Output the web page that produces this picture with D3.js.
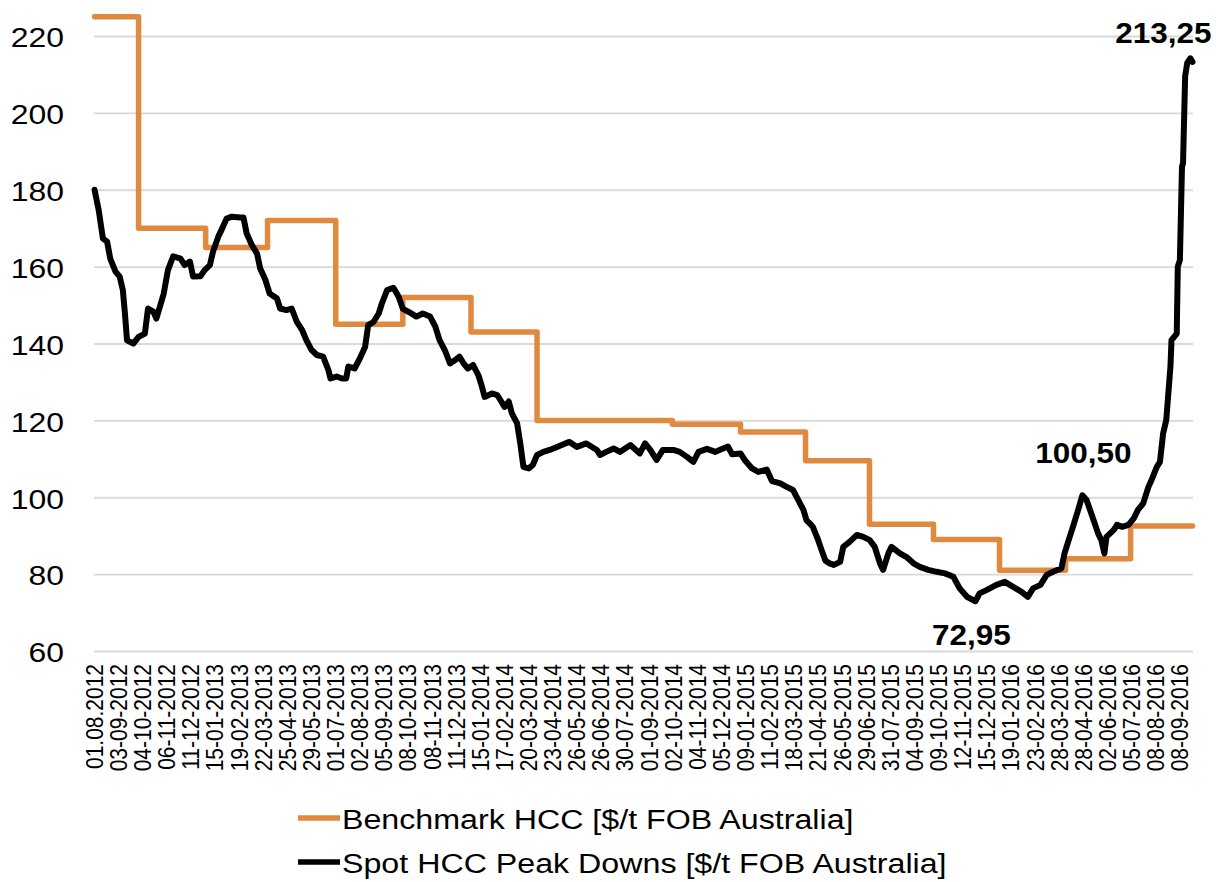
<!DOCTYPE html>
<html>
<head>
<meta charset="utf-8">
<script src="https://cdn.jsdelivr.net/npm/d3@7"></script>
<style>
  html, body { margin: 0; padding: 0; background: #ffffff; }
  svg { display: block; }
  text { font-family: "Liberation Sans", Arial, sans-serif; fill: #000; }
</style>
</head>
<body>
<script>
// ---------------- DATA ----------------
const categories = [
  "01.08.2012","03-09-2012","04-10-2012","06-11-2012","11-12-2012","15-01-2013","19-02-2013","22-03-2013",
  "25-04-2013","29-05-2013","01-07-2013","02-08-2013","05-09-2013","08-10-2013","08-11-2013","11-12-2013",
  "15-01-2014","17-02-2014","20-03-2014","23-04-2014","26-05-2014","26-06-2014","30-07-2014","01-09-2014",
  "02-10-2014","04-11-2014","05-12-2014","09-01-2015","11-02-2015","18-03-2015","21-04-2015","26-05-2015",
  "29-06-2015","31-07-2015","04-09-2015","09-10-2015","12-11-2015","15-12-2015","19-01-2016","23-02-2016",
  "28-03-2016","28-04-2016","02-06-2016","05-07-2016","08-08-2016","08-09-2016"
];
const labelEvery = 23;        // trading days between category labels
const lastDay = 1047;         // index of last trading day
const yTicks = [60, 80, 100, 120, 140, 160, 180, 200, 220];

// Benchmark HCC quarterly price (step): first trading-day index of each level
const benchStartDay = [0, 42, 106, 165, 230, 294, 359, 422, 551, 616, 678, 739, 800, 863, 926, 988];
const benchValue    = [225, 170, 165, 172, 145, 152, 143, 120, 119, 117, 109.5, 93, 89, 81, 84, 92.5];

// Spot HCC Peak Downs: trading-day index and price
const spotDay = [
  0,4,8,12,15,20,24,27,29,31,37,42,48,51,56,59,66,70,75,82,86,91,94,101,105,110,113,118,121,126,131,139,142,145,
  150,155,158,163,167,174,177,183,188,193,198,202,207,212,218,223,225,231,236,240,242,248,253,258,261,266,271,274,
  279,285,290,294,301,307,313,320,325,329,334,339,344,348,352,356,361,366,369,372,379,384,387,391,395,398,403,406,
  409,414,418,422,428,434,441,449,453,460,469,479,482,488,495,501,511,520,525,530,536,542,552,558,565,571,576,584,
  592,596,604,608,616,620,627,633,641,646,654,660,666,671,676,679,682,685,690,693,697,701,705,711,714,720,727,733,
  739,744,749,752,757,760,768,774,781,787,795,803,811,819,825,832,840,844,851,860,868,876,884,890,895,902,908,914,
  922,925,929,933,938,942,946,951,957,960,963,965,972,975,980,986,991,995,1000,1005,1008,1013,1016,1019,1022,1026,
  1027,1032,1033,1035,1037,1038,1040,1042,1045,1047
];
const spotValue = [
  180,174.7,167.3,166.5,162.1,158.7,157.4,153.9,147.8,140.8,140.0,141.7,142.6,149.1,148.3,146.5,153.0,159.1,162.7,
  162.1,160.4,161.3,157.4,157.5,159.1,160.4,163.9,167.8,169.5,172.5,173.0,172.8,172.8,168.7,
  165.6,163.4,159.5,156.5,153.0,151.7,149.1,148.7,149.1,145.6,143.5,140.9,138.3,137.0,136.6,133.1,130.9,131.4,130.9,
  130.9,134.0,133.5,136.1,139.1,144.8,145.6,147.8,150.4,
  153.9,154.5,152.2,149.0,148.0,147.0,147.8,147.0,144.4,140.9,138.3,134.8,135.7,136.6,134.8,133.5,134.4,131.8,129.2,
  126.1,127.0,126.6,125.3,123.5,124.9,121.8,119.2,114.0,
  107.9,107.5,108.4,111.0,111.8,112.3,113.1,114.0,114.4,113.1,114.0,112.3,111.0,111.8,112.7,111.8,113.6,111.4,114.0,
  112.3,109.7,112.3,112.3,111.8,110.5,109.2,111.8,112.6,
  111.8,112.3,113.2,111.2,111.4,109.7,107.5,106.6,107.2,104.2,103.6,102.7,101.9,99.3,96.7,94.0,93.2,92.3,88.9,86.5,
  83.5,82.8,82.4,83.2,87.1,88.4,90.2,89.7,
  88.9,87.1,82.8,81.1,85.4,87.1,85.4,84.5,82.8,81.9,81.1,80.6,80.2,79.3,76.3,74.1,72.95,75.0,75.9,77.2,78.0,76.7,
  75.4,74.1,76.3,77.2,79.8,80.6,
  81.5,85.4,88.9,92.3,96.7,100.5,99.3,95.4,90.6,88.9,85.4,89.7,91.5,92.8,92.3,92.8,94.5,96.7,98.4,102.7,104.5,107.9,
  109.2,116.6,120.1,134.0,
  140.9,142.6,160.0,161.7,186.0,186.9,209.5,213.0,214.2,213.25
];

// Data labels on the spot series
const labelText  = ["213,25", "100,50", "72,95"];
const labelDay   = [1047, 942, 840];
const labelValue = [213.25, 100.5, 72.95];

const seriesNames = ["Benchmark HCC [$/t FOB Australia]", "Spot HCC Peak Downs [$/t FOB Australia]"];

// ---------------- STYLE / LAYOUT ----------------
const W = 1216, H = 882;
const plot = { left: 94, right: 1193, top: 36, bottom: 651 };
const colors = { bench: "#E08A3F", spot: "#000000", grid: "#D9D9D9" };
const labelOffsets = [[-29, -29], [1, -43], [-4, 34]];

const svg = d3.select("body").append("svg")
  .attr("width", W).attr("height", H)
  .attr("viewBox", `0 0 ${W} ${H}`);
svg.append("rect").attr("width", W).attr("height", H).attr("fill", "#fff");

const x = d3.scaleLinear().domain([-0.5, lastDay + 0.5]).range([plot.left, plot.right]);
const y = d3.scaleLinear().domain([60, 220]).range([plot.bottom, plot.top]);

// gridlines + y axis labels
const yAxis = d3.axisLeft(y).tickValues(yTicks).tickSize(0).tickPadding(0).tickFormat(d3.format("d"));
const yg = svg.append("g").attr("transform", `translate(${plot.left},0)`).call(yAxis);
yg.select(".domain").remove();
yg.selectAll(".tick line")
  .attr("x1", 0).attr("x2", plot.right - plot.left)
  .attr("stroke", colors.grid).attr("stroke-width", 1.8);
yg.selectAll(".tick text")
  .attr("x", null).attr("dy", null)
  .attr("text-anchor", "end")
  .attr("dominant-baseline", "central")
  .attr("font-size", 28)
  .attr("transform", "translate(-30,1) scale(1.14,1)")
  .style("font-family", '"Liberation Sans", Arial, sans-serif')
  .attr("fill", "#000");

// x axis: category labels every labelEvery trading days
const xTickDays = categories.map((c, i) => i * labelEvery);
const xAxis = d3.axisBottom(x).tickValues(xTickDays).tickSize(0)
  .tickFormat((d, i) => categories[i]);
const xg = svg.append("g").attr("transform", `translate(0,${plot.bottom})`).call(xAxis);
xg.select(".domain").remove();
xg.selectAll(".tick text")
  .attr("y", null).attr("dy", null)
  .attr("text-anchor", "end")
  .attr("dominant-baseline", "central")
  .attr("font-size", 21)
  .attr("transform", "translate(0,13) scale(1.1,1) rotate(-90)")
  .style("font-family", '"Liberation Sans", Arial, sans-serif')
  .attr("fill", "#000");

// benchmark step line
const benchPts = benchStartDay.map((d, i) => [d, benchValue[i]]);
benchPts.push([lastDay, benchValue[benchValue.length - 1]]);
const stepLine = d3.line().x(d => x(d[0])).y(d => y(d[1])).curve(d3.curveStepAfter);
svg.append("path").datum(benchPts)
  .attr("d", stepLine).attr("fill", "none")
  .attr("stroke", colors.bench).attr("stroke-width", 5.5)
  .attr("stroke-linejoin", "round").attr("stroke-linecap", "round");

// spot line
const spotPts = spotDay.map((d, i) => [d, spotValue[i]]);
const line = d3.line().x(d => x(d[0])).y(d => y(d[1]));
svg.append("path").datum(spotPts)
  .attr("d", line).attr("fill", "none")
  .attr("stroke", colors.spot).attr("stroke-width", 6)
  .attr("stroke-linejoin", "round").attr("stroke-linecap", "round");

// data labels
labelText.forEach((t, i) => {
  const px = x(labelDay[i]) + labelOffsets[i][0];
  const py = y(labelValue[i]) + labelOffsets[i][1];
  svg.append("text")
    .attr("transform", `translate(${px},${py}) scale(1.05,1)`)
    .attr("text-anchor", "middle").attr("dominant-baseline", "central")
    .attr("font-size", 30).attr("font-weight", "bold")
    .text(t);
});

// legend
const legend = svg.append("g");
const legendRows = [
  { name: seriesNames[0], color: colors.bench, y: 818 },
  { name: seriesNames[1], color: colors.spot, y: 862 }
];
legendRows.forEach(r => {
  legend.append("line").attr("x1", 298).attr("x2", 340).attr("y1", r.y).attr("y2", r.y)
    .attr("stroke", r.color).attr("stroke-width", 5.5);
  legend.append("text")
    .attr("transform", `translate(342,${r.y + 1}) scale(1.15,1)`)
    .attr("dominant-baseline", "central")
    .attr("font-size", 28)
    .text(r.name);
});
</script>
</body>
</html>
